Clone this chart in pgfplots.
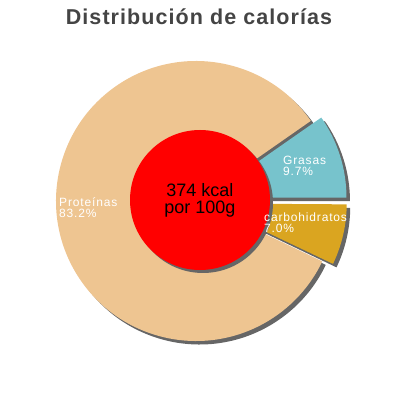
\documentclass[border=0pt]{standalone}
\usepackage{pgfplots}
\pgfplotsset{compat=1.18}
\usepackage{pgfplotstable}
\usepackage{fontspec}
\setmainfont{Liberation Sans}
\newfontfamily\spacedfont[LetterSpace=7]{Liberation Sans}
\newfontfamily\titlefont[LetterSpace=5]{Liberation Sans}

\definecolor{tanpie}{HTML}{EEC591}
\definecolor{grasas}{HTML}{77C3CC}
\definecolor{carbs}{HTML}{DAA520}
\definecolor{shadowgray}{HTML}{666666}
\definecolor{titlegray}{HTML}{444444}

% share of calories, percent
\pgfplotstableread{
name value
Grasas 9.7
Proteinas 83.2
carbohidratos 7.0
}\pietable

\begin{document}
\begin{tikzpicture}[
  lab/.style={anchor=base west, white, inner sep=0pt, font=\spacedfont\fontsize{12}{12}\selectfont},
  ]
\pgfplotstablegetelem{0}{value}\of\pietable \global\let\vG\pgfplotsretval
\pgfplotstablegetelem{1}{value}\of\pietable \global\let\vP\pgfplotsretval
\pgfplotstablegetelem{2}{value}\of\pietable \global\let\vC\pgfplotsretval
\pgfmathsetmacro\aA{0}
\pgfmathsetmacro\aB{3.6*\vG}
\pgfmathsetmacro\aC{\aB+3.6*\vP}
\pgfmathsetmacro\aD{\aC+3.6*\vC}
\def\cx{196}\def\cy{199}\def\R{140pt}
% start, end, explode, style
\newcommand\slice[4]{%
  \fill[#4] ([shift={({(#1+#2)/2}:#3)}]axis cs:\cx,\cy) -- ++(#1:\R)
    arc[start angle=#1, end angle=#2, radius=\R] -- cycle;}
\begin{axis}[
  width=400pt, height=400pt, scale only axis,
  xmin=0, xmax=400, ymin=0, ymax=400,
  hide axis, clip=false,
  ]
  \path (axis cs:0,0) rectangle (axis cs:400,400);
  % shadows
  \slice{\aA}{\aB}{11pt}{shadowgray, xshift=3.5pt, yshift=-3.5pt}
  \slice{\aB}{\aC}{0pt}{shadowgray, xshift=3.5pt, yshift=-3.5pt}
  \slice{\aC}{\aD}{11pt}{shadowgray, xshift=3.5pt, yshift=-3.5pt}
  % slices
  \slice{\aA}{\aB}{11pt}{grasas}
  \slice{\aB}{\aC}{0pt}{tanpie}
  \slice{\aC}{\aD}{11pt}{carbs}
  % centre disc
  \fill[shadowgray] (axis cs:203,197) circle[radius=70pt];
  \fill[red] (axis cs:200,200) circle[radius=70pt];
  \node[align=center, font=\fontsize{18}{17}\selectfont] at (axis cs:200,200) {374 kcal\\por 100g};
  % labels
  \node[lab] at (axis cs:283,235) {Grasas};
  \node[lab] at (axis cs:283,224) {9.7\%};
  \node[lab] at (axis cs:264,178) {carbohidratos};
  \node[lab] at (axis cs:264,167) {7.0\%};
  \node[lab] at (axis cs:59,193.5) {Proteínas};
  \node[lab] at (axis cs:59,182.5) {83.2\%};
  \node[anchor=base, titlegray, inner sep=0pt, font=\titlefont\fontsize{21.5}{24}\selectfont\bfseries] at (axis cs:199,375) {Distribución de calorías};
\end{axis}
\end{tikzpicture}
\end{document}
